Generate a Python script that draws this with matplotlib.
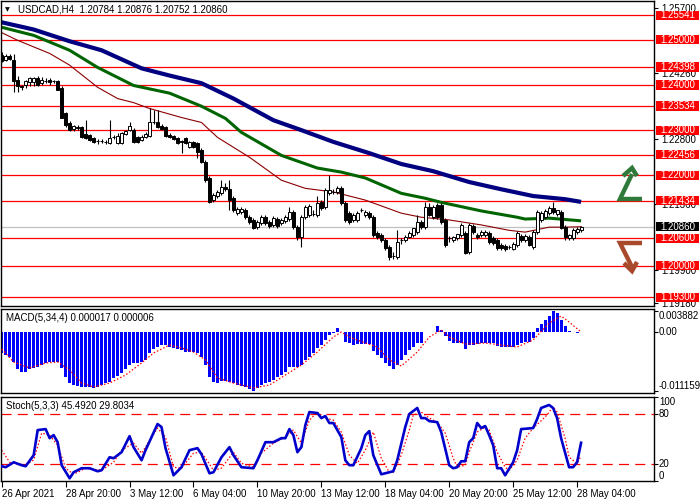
import numpy as np
import matplotlib
matplotlib.use("Agg")
import matplotlib.pyplot as plt
from matplotlib.patches import Rectangle

# ---- data (USDCAD H4) ----
opens = [1.2466, 1.2455, 1.2464, 1.2455, 1.2412, 1.2397, 1.2399, 1.2406, 1.2406, 1.2415,
         1.2404, 1.2410, 1.2412, 1.2408, 1.2408, 1.2393, 1.2337, 1.2315, 1.2302, 1.2306,
         1.2306, 1.2291, 1.2289, 1.2282, 1.2276, 1.2276, 1.2274, 1.2271, 1.2284, 1.2271,
         1.2271, 1.2291, 1.2300, 1.2300, 1.2284, 1.2278, 1.2284, 1.2287, 1.2317, 1.2317,
         1.2309, 1.2306, 1.2289, 1.2287, 1.2282, 1.2276, 1.2282, 1.2262, 1.2274, 1.2271,
         1.2255, 1.2229, 1.2194, 1.2145, 1.2154, 1.2160, 1.2174, 1.2169, 1.2149, 1.2116,
         1.2119, 1.2123, 1.2108, 1.2101, 1.2086, 1.2094, 1.2108, 1.2097, 1.2090, 1.2103,
         1.2094, 1.2099, 1.2103, 1.2119, 1.2086, 1.2063, 1.2108, 1.2112, 1.2114, 1.2112,
         1.2141, 1.2130, 1.2160, 1.2163, 1.2163, 1.2171, 1.2138, 1.2116, 1.2101, 1.2101,
         1.2123, 1.2112, 1.2116, 1.2108, 1.2072, 1.2067, 1.2056, 1.2041, 1.2021, 1.2019,
         1.2056, 1.2056, 1.2063, 1.2067, 1.2074, 1.2097, 1.2086, 1.2130, 1.2108, 1.2134,
         1.2134, 1.2101, 1.2061, 1.2056, 1.2061, 1.2067, 1.2072, 1.2030, 1.2088, 1.2067,
         1.2067, 1.2067, 1.2072, 1.2061, 1.2056, 1.2045, 1.2043, 1.2041, 1.2036, 1.2045,
         1.2065, 1.2056, 1.2063, 1.2041, 1.2074, 1.2101, 1.2108, 1.2116, 1.2127, 1.2114,
         1.2119, 1.2086, 1.2061, 1.2061, 1.2074, 1.20784]
highs = [1.2473, 1.2468, 1.2468, 1.2468, 1.2419, 1.2401, 1.2412, 1.2417, 1.2417, 1.2419,
         1.2417, 1.2415, 1.2415, 1.2412, 1.2412, 1.2397, 1.2340, 1.2320, 1.2311, 1.2311,
         1.2309, 1.2322, 1.2291, 1.2284, 1.2280, 1.2280, 1.2278, 1.2322, 1.2289, 1.2293,
         1.2296, 1.2300, 1.2317, 1.2304, 1.2287, 1.2289, 1.2296, 1.2348, 1.2344, 1.2344,
         1.2313, 1.2309, 1.2293, 1.2289, 1.2284, 1.2278, 1.2284, 1.2276, 1.2276, 1.2274,
         1.2260, 1.2233, 1.2198, 1.2160, 1.2167, 1.2189, 1.2183, 1.2189, 1.2154, 1.2130,
         1.2130, 1.2127, 1.2112, 1.2105, 1.2101, 1.2112, 1.2112, 1.2101, 1.2110, 1.2108,
         1.2105, 1.2112, 1.2130, 1.2123, 1.2090, 1.2112, 1.2134, 1.2136, 1.2123, 1.2154,
         1.2145, 1.2171, 1.2200, 1.2169, 1.2176, 1.2176, 1.2143, 1.2121, 1.2116, 1.2121,
         1.2127, 1.2123, 1.2121, 1.2112, 1.2076, 1.2072, 1.2061, 1.2045, 1.2030, 1.2078,
         1.2061, 1.2067, 1.2076, 1.2083, 1.2112, 1.2101, 1.2141, 1.2138, 1.2134, 1.2138,
         1.2138, 1.2105, 1.2065, 1.2065, 1.2070, 1.2094, 1.2076, 1.2094, 1.2092, 1.2072,
         1.2078, 1.2078, 1.2076, 1.2065, 1.2061, 1.2050, 1.2047, 1.2045, 1.2052, 1.2076,
         1.2070, 1.2070, 1.2067, 1.2078, 1.2123, 1.2121, 1.2125, 1.2132, 1.2141, 1.2123,
         1.2123, 1.2090, 1.2070, 1.2083, 1.2086, 1.20876]
lows = [1.2451, 1.2453, 1.2455, 1.2384, 1.2384, 1.2390, 1.2393, 1.2397, 1.2397, 1.2397,
        1.2399, 1.2404, 1.2401, 1.2404, 1.2388, 1.2326, 1.2306, 1.2298, 1.2298, 1.2300,
        1.2282, 1.2280, 1.2276, 1.2271, 1.2269, 1.2271, 1.2269, 1.2269, 1.2280, 1.2269,
        1.2269, 1.2289, 1.2298, 1.2271, 1.2271, 1.2276, 1.2282, 1.2284, 1.2313, 1.2304,
        1.2300, 1.2284, 1.2282, 1.2278, 1.2269, 1.2249, 1.2269, 1.2260, 1.2260, 1.2238,
        1.2227, 1.2185, 1.2138, 1.2141, 1.2149, 1.2156, 1.2165, 1.2123, 1.2119, 1.2112,
        1.2114, 1.2103, 1.2092, 1.2081, 1.2081, 1.2090, 1.2090, 1.2083, 1.2086, 1.2083,
        1.2090, 1.2094, 1.2099, 1.2081, 1.2056, 1.2041, 1.2103, 1.2108, 1.2110, 1.2108,
        1.2123, 1.2125, 1.2156, 1.2158, 1.2158, 1.2134, 1.2097, 1.2092, 1.2097, 1.2097,
        1.2119, 1.2108, 1.2103, 1.2063, 1.2059, 1.2052, 1.2034, 1.2012, 1.2014, 1.2014,
        1.2047, 1.2052, 1.2061, 1.2063, 1.2070, 1.2081, 1.2081, 1.2110, 1.2103, 1.2103,
        1.2092, 1.2041, 1.2052, 1.2052, 1.2056, 1.2063, 1.2025, 1.2025, 1.2070, 1.2059,
        1.2063, 1.2063, 1.2047, 1.2045, 1.2034, 1.2034, 1.2032, 1.2036, 1.2034, 1.2041,
        1.2052, 1.2052, 1.2043, 1.2036, 1.2070, 1.2097, 1.2103, 1.2112, 1.2114, 1.2110,
        1.2081, 1.2056, 1.2056, 1.2056, 1.2070, 1.20752]
closes = [1.2453, 1.2464, 1.2457, 1.2410, 1.2397, 1.2395, 1.2408, 1.2415, 1.2415, 1.2401,
          1.2412, 1.2408, 1.2406, 1.2408, 1.2390, 1.2328, 1.2311, 1.2300, 1.2309, 1.2304,
          1.2284, 1.2282, 1.2278, 1.2274, 1.2275, 1.2276, 1.2274, 1.2282, 1.2284, 1.2287,
          1.2293, 1.2298, 1.2309, 1.2274, 1.2274, 1.2284, 1.2291, 1.2317, 1.2317, 1.2306,
          1.2302, 1.2287, 1.2284, 1.2280, 1.2271, 1.2274, 1.2271, 1.2274, 1.2262, 1.2251,
          1.2229, 1.2189, 1.2141, 1.2156, 1.2163, 1.2174, 1.2169, 1.2145, 1.2123, 1.2125,
          1.2125, 1.2108, 1.2097, 1.2083, 1.2097, 1.2108, 1.2094, 1.2088, 1.2105, 1.2088,
          1.2101, 1.2108, 1.2119, 1.2086, 1.2063, 1.2108, 1.2130, 1.2132, 1.2114, 1.2138,
          1.2127, 1.2167, 1.2167, 1.2163, 1.2171, 1.2138, 1.2101, 1.2097, 1.2112, 1.2116,
          1.2123, 1.2119, 1.2108, 1.2067, 1.2063, 1.2056, 1.2039, 1.2019, 1.2021, 1.2052,
          1.2056, 1.2063, 1.2072, 1.2083, 1.2097, 1.2086, 1.2130, 1.2112, 1.2130, 1.2108,
          1.2097, 1.2045, 1.2061, 1.2063, 1.2070, 1.2090, 1.2028, 1.2090, 1.2074, 1.2063,
          1.2074, 1.2074, 1.2052, 1.2050, 1.2039, 1.2039, 1.2036, 1.2041, 1.2047, 1.2072,
          1.2056, 1.2065, 1.2045, 1.2074, 1.2119, 1.2116, 1.2121, 1.2127, 1.2119, 1.2123,
          1.2083, 1.2063, 1.2067, 1.2078, 1.2081, 1.20860]

# moving averages, read at a number of bars
slow_idx = [0, 8, 17, 25, 35, 42, 50, 58, 68, 75, 83, 92, 100, 108, 117, 125, 133, 141, 145]
ma_slow = [1.2539, 1.2523, 1.2497, 1.2477, 1.2437, 1.2421, 1.2404, 1.2370, 1.2322, 1.2300,
           1.2274, 1.2249, 1.2225, 1.2209, 1.2185, 1.2169, 1.2154, 1.2147, 1.2141]
mid_idx = [0, 8, 17, 24, 33, 42, 50, 56, 60, 70, 79, 85, 91, 100, 106, 110, 120, 129, 131, 137, 145]
ma_mid = [1.2528, 1.2510, 1.2477, 1.2439, 1.2399, 1.2382, 1.2353, 1.2326, 1.2295, 1.2244,
          1.2216, 1.2207, 1.2194, 1.2160, 1.2149, 1.2140, 1.2121, 1.2107, 1.2103, 1.2105, 1.2099]
fast_idx = [0, 4, 12, 17, 24, 29, 33, 37, 45, 50, 54, 62, 70, 76, 83, 91, 100, 105, 112,
            120, 127, 131, 137, 141, 145]
ma_fast = [1.2516, 1.2499, 1.2470, 1.2444, 1.2395, 1.2370, 1.2361, 1.2348, 1.2328, 1.2317,
           1.2284, 1.2240, 1.2189, 1.2171, 1.2163, 1.2145, 1.2116, 1.2107, 1.2101, 1.2090,
           1.2078, 1.2074, 1.2085, 1.2085, 1.2086]

levels = [1.25541, 1.25000, 1.24398, 1.24000, 1.23534, 1.23000, 1.22456, 1.22000,
          1.21434, 1.20600, 1.20000, 1.19300]
last_price = 1.20860
price_ticks = [1.25700, 1.24260, 1.22800, 1.21360, 1.19900, 1.19180]

macd_hist = [-0.00397, -0.00435, -0.00473, -0.00567, -0.00699, -0.00756, -0.00756, -0.00699, -0.00680, -0.00662,
             -0.00624, -0.00586, -0.00567, -0.00567, -0.00567, -0.00680, -0.00851, -0.00964, -0.01002, -0.01021,
             -0.01040, -0.01040, -0.01040, -0.01058, -0.01040, -0.01002, -0.00964, -0.00945, -0.00869, -0.00832,
             -0.00775, -0.00699, -0.00624, -0.00586, -0.00586, -0.00567, -0.00529, -0.00397, -0.00321, -0.00284,
             -0.00246, -0.00246, -0.00284, -0.00302, -0.00321, -0.00340, -0.00378, -0.00378, -0.00378, -0.00397,
             -0.00473, -0.00624, -0.00851, -0.00945, -0.00964, -0.00926, -0.00926, -0.00945, -0.00964, -0.01002,
             -0.01021, -0.01040, -0.01077, -0.011159, -0.01058, -0.01002, -0.00964, -0.00945, -0.00907, -0.00851,
             -0.00813, -0.00756, -0.00662, -0.00662, -0.00662, -0.00624, -0.00529, -0.00473, -0.00397, -0.00302,
             -0.00246, -0.00151, -0.00057, -0.00019, 0.00076, 0.00002, -0.00189, -0.00208, -0.00246, -0.00227,
             -0.00227, -0.00227, -0.00227, -0.00359, -0.00435, -0.00491, -0.00586, -0.00643, -0.00699, -0.00624,
             -0.00529, -0.00435, -0.00340, -0.00284, -0.00208, -0.00208, 0.00002, 0.00002, 0.00002, 0.00113,
             0.00038, -0.00076, -0.00170, -0.00208, -0.00208, -0.00208, -0.00321, -0.00246, -0.00246, -0.00227,
             -0.00208, -0.00208, -0.00208, -0.00208, -0.00265, -0.00284, -0.00284, -0.00284, -0.00284, -0.00246,
             -0.00208, -0.00189, -0.00189, -0.00113, 0.00076, 0.00151, 0.00227, 0.00302, 0.003882, 0.00360,
             0.00227, 0.00113, 0.00019, 0.00002, -0.00019, 0.000017]
sig_idx = [0, 3, 7, 11, 14, 17, 20, 23, 27, 31, 35, 38, 42, 45, 48, 51, 54, 58, 63, 67, 71,
           75, 79, 83, 85, 87, 91, 94, 97, 100, 104, 107, 110, 112, 116, 121, 125, 129, 133,
           137, 140, 142, 145]
macd_signal = [-0.00321, -0.00567, -0.00680, -0.00586, -0.00567, -0.00718, -0.00964, -0.01040,
               -0.00964, -0.00813, -0.00586, -0.00397, -0.00246, -0.00302, -0.00378, -0.00529,
               -0.00869, -0.00964, -0.01058, -0.01002, -0.00813, -0.00624, -0.00378, -0.00095,
               0.0, -0.00095, -0.00208, -0.00284, -0.00529, -0.00643, -0.00378, -0.00095,
               0.00038, -0.00095, -0.00227, -0.00208, -0.00246, -0.00284, -0.00151, 0.00170,
               0.00302, 0.00189, 0.000006]

k_idx = [0, 1, 3, 5, 6, 8, 9, 11, 12, 13, 14, 15, 17, 18, 20, 22, 24, 25, 27, 28, 30, 32, 33,
         35, 36, 39, 40, 41, 43, 45, 47, 49, 50, 52, 53, 55, 57, 58, 60, 63, 64, 66, 68, 70,
         71, 72, 73, 74, 75, 76, 77, 79, 80, 81, 82, 83, 85, 86, 87, 88, 90, 91, 92, 93, 95,
         96, 98, 99, 101, 102, 104, 105, 106, 107, 109, 110, 112, 113, 114, 115, 116, 117,
         118, 119, 120, 121, 122, 123, 124, 125, 126, 128, 129, 130, 133, 134, 135, 137, 138,
         139, 140, 142, 143, 144, 145]
stoch_k = [17.6, 16.4, 22.3, 18.8, 17.6, 30.7, 60.6, 61.8, 51.0, 54.6, 46.2, 18.8, 3.2, 10.4,
           15.2, 15.2, 11.6, 12.8, 28.3, 27.1, 34.3, 53.4, 40.3, 24.7, 36.7, 67.8, 64.2, 39.1,
           6.8, 16.4, 36.7, 39.1, 31.9, 9.2, 10.4, 28.3, 40.3, 30.7, 16.4, 15.2, 24.7, 46.2,
           46.2, 51.0, 51.0, 61.8, 54.6, 34.3, 40.3, 66.6, 82.1, 80.9, 74.9, 77.3, 69.0, 69.0,
           52.2, 24.7, 18.8, 18.8, 39.1, 54.6, 59.4, 30.7, 8.0, 9.2, 11.6, 24.7, 64.2, 79.7,
           86.9, 74.9, 74.9, 71.3, 70.1, 58.2, 18.8, 15.2, 16.4, 23.5, 23.5, 46.2, 51.0, 69.0,
           63.0, 65.4, 54.6, 42.6, 15.2, 15.2, 6.8, 22.3, 36.7, 61.8, 63.0, 73.7, 86.9, 90.5,
           86.9, 74.9, 51.0, 16.4, 16.4, 22.3, 45.492]
d_idx = [0, 2, 3, 6, 8, 10, 12, 14, 16, 18, 21, 25, 28, 30, 33, 35, 39, 41, 43, 45, 48, 50,
         53, 55, 58, 60, 63, 65, 68, 71, 73, 75, 77, 79, 81, 83, 85, 87, 89, 91, 93, 95, 97,
         98, 100, 102, 103, 105, 107, 109, 111, 113, 114, 116, 117, 119, 121, 122, 124, 126,
         127, 129, 131, 133, 136, 138, 139, 141, 142, 144, 145]
stoch_d = [36.7, 22.3, 21.0, 18.8, 25.0, 57.0, 54.6, 42.7, 15.2, 8.0, 15.2, 12.8, 22.3, 36.7,
           45.1, 33.1, 63.0, 52.2, 16.4, 15.2, 33.1, 34.3, 12.8, 15.2, 34.3, 21.1, 16.4, 33.1,
           45.1, 52.2, 60.6, 45.1, 72.5, 82.1, 74.9, 72.5, 58.2, 30.7, 21.1, 36.7, 58.2, 27.1,
           10.4, 10.4, 30.7, 60.6, 78.5, 82.1, 74.9, 70.1, 57.0, 27.1, 16.4, 18.8, 34.3, 58.2,
           64.2, 60.6, 34.3, 16.4, 12.8, 24.7, 51.0, 63.0, 76.1, 88.1, 82.1, 51.0, 28.3, 21.1,
           29.8034]

date_idx = [0, 16, 32, 48, 64, 80, 96, 112, 128, 144]
date_labels = ['26 Apr 2021', '28 Apr 20:00', '3 May 12:00', '6 May 04:00', '10 May 20:00',
               '13 May 12:00', '18 May 04:00', '20 May 20:00', '25 May 12:00', '28 May 04:00']

plt.rcParams['font.family'] = ['Liberation Sans', 'DejaVu Sans']
fs = 7

fig = plt.figure(figsize=(7, 5), dpi=100)
W, H = 700.0, 500.0
right_px = 654

def panel(top, bottom):
    return fig.add_axes([0.001, 1 - bottom / H, (right_px - 0.7) / W, (bottom - top) / H])

ax = panel(0.5, 306)
axm = panel(309, 393)
axs = panel(397, 481)

xmin, xmax = -0.25, -0.25 + right_px / 4.0
for a in (ax, axm, axs):
    a.set_xlim(xmin, xmax)
    for s in a.spines.values():
        s.set_linewidth(1.0)
        s.set_color('black')
    a.yaxis.tick_right()
    a.tick_params(axis='y', direction='out', length=3, width=0.8, labelsize=fs, pad=2)
    a.tick_params(axis='x', length=0, labelbottom=False)

# ---- main price panel ----
ax.set_ylim(1.19103, 1.25873)
idx = np.arange(len(closes))
o = np.array(opens); c = np.array(closes)
for lv in levels:
    ax.axhline(lv, color='#ff0000', lw=0.9, zorder=1)
ax.axhline(last_price, color='#c0c0c0', lw=0.9, zorder=1)

ax.plot(slow_idx, ma_slow, color='#000080', lw=3.0, zorder=2, solid_capstyle='butt')
ax.plot(mid_idx, ma_mid, color='#006400', lw=2.2, zorder=2, solid_capstyle='butt')
ax.plot(fast_idx, ma_fast, color='#8b0000', lw=0.8, zorder=2)

ax.vlines(idx, lows, highs, color='black', lw=0.8, zorder=3)
up = c >= o
body_h = np.maximum(np.abs(c - o), 0.00005)
ax.bar(idx, body_h, bottom=np.minimum(o, c), width=0.72,
       color=np.where(up, 'white', 'black'), edgecolor='black', linewidth=0.7, zorder=4)

ax.set_yticks(price_ticks)
ax.set_yticklabels(['%.5f' % t for t in price_ticks])
ytr = ax.get_yaxis_transform()
px_w = 1.0 / (right_px - 0.7)
half_h = 4.6 * (1.25873 - 1.19103) / 305.5


def price_box(val, face):
    ax.add_patch(Rectangle((1 + 2 * px_w, val - half_h), 43 * px_w, 2 * half_h,
                           transform=ytr, fc=face, ec='none', clip_on=False, zorder=9))
    ax.text(1 + 6 * px_w, val, '%.5f' % val, transform=ytr, ha='left', va='center',
            fontsize=fs, color='white', clip_on=False, zorder=10)


for lv in levels:
    price_box(lv, '#ff0000')
price_box(last_price, 'black')

ax.text(17 / right_px, 1 - 9 / 306, 'USDCAD,H4  1.20784 1.20876 1.20752 1.20860',
        transform=ax.transAxes, fontsize=fs, va='center', ha='left')
ax.text(4 / right_px, 1 - 9 / 306, '\u25bc', transform=ax.transAxes, fontsize=4.5,
        va='center', ha='left', family='DejaVu Sans')

# ---- MACD ----
axm.set_ylim(-0.01153, 0.00435)
axm.bar(idx, macd_hist, width=0.72, color='#0000ff', zorder=2)
axm.plot(sig_idx, macd_signal, color='#ff0000', lw=0.9, ls=(0, (1.2, 1.6)), zorder=3)
axm.set_yticks([0.003882, 0.0, -0.011159])
axm.set_yticklabels([])
mtr = axm.get_yaxis_transform()
lx = 1 + 5 * px_w
axm.text(lx, 0.003882, '0.003882', transform=mtr, fontsize=fs, va='top', ha='left', clip_on=False)
axm.text(lx, 0.0, '0.00', transform=mtr, fontsize=fs, va='center', ha='left', clip_on=False)
axm.text(lx, -0.011159, '-0.011159', transform=mtr, fontsize=fs, va='bottom', ha='left', clip_on=False)
axm.text(5 / right_px, 1 - 9 / 84, 'MACD(5,34,4) 0.000017 0.000006', transform=axm.transAxes,
         fontsize=fs, va='center', ha='left')

# ---- Stochastic ----
axs.set_ylim(0, 100)
for lv in (20, 80):
    axs.axhline(lv, color='#ff0000', lw=0.9, ls=(0, (8, 5)), zorder=1)
axs.plot(k_idx, stoch_k, color='#0000cc', lw=1.9, zorder=3)
axs.plot(d_idx, stoch_d, color='#ff0000', lw=0.9, ls=(0, (1.2, 1.6)), zorder=2)
axs.set_yticks([100, 80, 20, 0])
axs.set_yticklabels([])
str_ = axs.get_yaxis_transform()
axs.text(lx, 100, '100', transform=str_, fontsize=fs, va='top', ha='left', clip_on=False)
axs.text(lx, 80, '80', transform=str_, fontsize=fs, va='center', ha='left', clip_on=False)
axs.text(lx, 20, '20', transform=str_, fontsize=fs, va='center', ha='left', clip_on=False)
axs.text(lx, 0, '0', transform=str_, fontsize=fs, va='bottom', ha='left', clip_on=False)
axs.text(5 / right_px, 1 - 9 / 84, 'Stoch(5,3,3) 45.4920 29.8034', transform=axs.transAxes,
         fontsize=fs, va='center', ha='left')

axs.set_xticks(date_idx)
axs.set_xticklabels(date_labels, ha='left')
axs.tick_params(axis='x', direction='out', length=4, width=0.8, labelbottom=True,
                labelsize=fs, pad=2)

# ---- signal icons drawn in pixel space ----
ov = fig.add_axes([0, 0, 1, 1], zorder=20)
ov.set_xlim(0, W); ov.set_ylim(H, 0); ov.axis('off'); ov.patch.set_alpha(0)
g = '#2f7a3a'
ov.plot([642, 620, 632], [199, 199, 174], color=g, lw=3.2, solid_capstyle='butt', solid_joinstyle='miter')
ov.plot([623, 632, 637], [176, 168, 176], color=g, lw=3.2, solid_capstyle='butt', solid_joinstyle='miter')
b = '#a8492c'
ov.plot([642, 620, 632], [243, 243, 267], color=b, lw=3.2, solid_capstyle='butt', solid_joinstyle='miter')
ov.plot([624, 632, 637], [263, 271, 262], color=b, lw=3.2, solid_capstyle='butt', solid_joinstyle='miter')

fig.savefig('out.png', dpi=100)
